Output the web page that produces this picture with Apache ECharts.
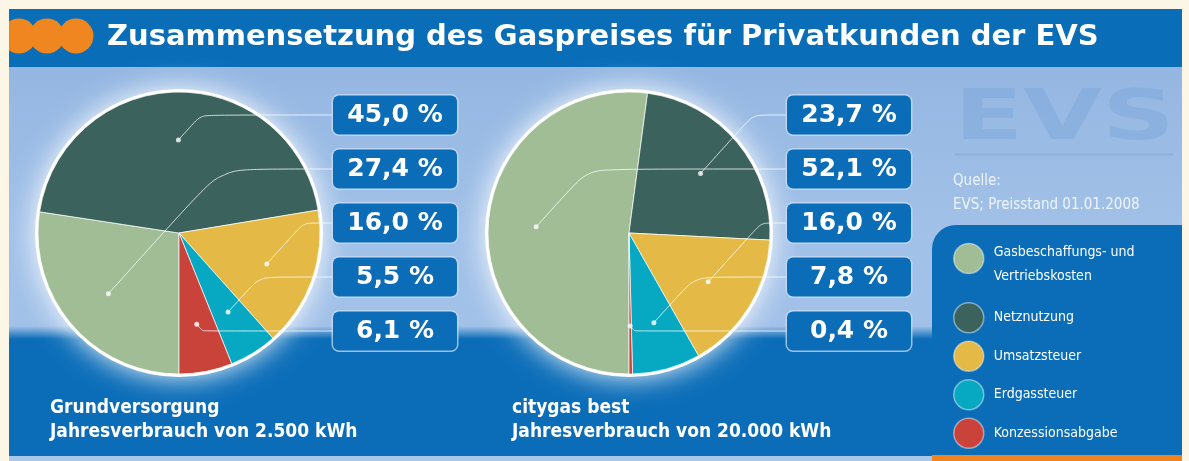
<!DOCTYPE html>
<html>
<head>
<meta charset="utf-8">
<title>Gaspreis EVS</title>
<style>
  html, body { margin: 0; padding: 0; background: #fcf6e6; }
  #main { width: 1189px; height: 461px; }
</style>
<script src="https://cdn.jsdelivr.net/npm/echarts@6/dist/echarts.min.js"></script>
</head>
<body>
<div id="main"></div>
<script>
// data
var categories = ['Gasbeschaffungs- und Vertriebskosten', 'Netznutzung', 'Umsatzsteuer', 'Erdgassteuer', 'Konzessionsabgabe'];
var grundValues = [27.4, 45.0, 16.0, 5.5, 6.1];
var citygasValues = [52.1, 23.7, 16.0, 7.8, 0.4];
var colors = ['#a0bd96', '#3b625c', '#e4b945', '#07a9c2', '#c9433a'];
// which box (top to bottom) each category's value goes into
var boxSlot = [1, 0, 2, 3, 4];

var CY = 233, R = 141, DOT_R = 0.66;
var BOX_TOP = 115, BOX_STEP = 54, BOX_W = 124;
var condensed = '"DejaVu Sans Condensed", "Liberation Sans Narrow", sans-serif';

function midPercents(values) {
  var total = 0, acc = 0;
  values.forEach(function (v) { total += v; });
  return values.map(function (v) {
    var m = (acc + v / 2) / total * 100;
    acc += v;
    return m;
  });
}

function makeLayout(values, cx, boxX) {
  var mids = midPercents(values);
  return function (p) {
    var i = p.dataIndex;
    var a = mids[i] / 100 * 2 * Math.PI;
    var dx = cx - Math.sin(a) * R * DOT_R;
    var dy = CY + Math.cos(a) * R * DOT_R;
    var ty = BOX_TOP + boxSlot[i] * BOX_STEP;
    var ex = Math.min(dx + Math.abs(dy - ty) * 0.9, boxX - 10);
    return {
      x: boxX + BOX_W / 2,
      y: ty,
      align: 'center',
      verticalAlign: 'middle',
      labelLinePoints: [[dx, dy], [ex, ty], [boxX, ty]]
    };
  };
}

function haloSeries(cx) {
  return {
    type: 'pie', silent: true, animation: false, z: 1,
    center: [cx, CY], radius: [0, R + 3],
    label: { show: false }, labelLine: { show: false },
    itemStyle: { color: '#ffffff', shadowBlur: 28, shadowColor: 'rgba(255,255,255,0.95)' },
    data: [{ name: 'halo', value: 1 }]
  };
}

function pieSeries(name, values, cx) {
  return {
    name: name, type: 'pie', animation: false, z: 3,
    center: [cx, CY], radius: [0, R],
    startAngle: 270, clockwise: true,
    emphasis: { scale: false },
    itemStyle: { borderColor: 'rgba(255,255,255,0.7)', borderWidth: 1 },
    label: { show: false }, labelLine: { show: false },
    data: values.map(function (v, i) {
      return { name: categories[i], value: v, itemStyle: { color: colors[i] } };
    })
  };
}

// same slices, transparent, only carrying the value boxes so the lines sit on top
function labelSeries(name, values, cx, boxX) {
  return {
    name: name, type: 'pie', animation: false, z: 5, silent: true,
    center: [cx, CY], radius: [0, R],
    startAngle: 270, clockwise: true,
    avoidLabelOverlap: false,
    itemStyle: { color: 'rgba(0,0,0,0)', borderWidth: 0 },
    data: values.map(function (v, i) { return { name: categories[i], value: v }; }),
    label: {
      show: true, position: 'outside',
      formatter: function (p) { return p.value.toFixed(1).replace('.', ',') + ' %'; },
      color: '#ffffff', fontFamily: '"DejaVu Sans", sans-serif', fontWeight: 'bold', fontSize: 25,
      width: BOX_W, height: 39, lineHeight: 39, align: 'center',
      backgroundColor: '#0b6cb7', borderRadius: 6,
      borderColor: 'rgba(200,222,245,0.75)', borderWidth: 1.5
    },
    labelLine: { show: true, smooth: 0.15, lineStyle: { color: 'rgba(255,255,255,0.75)', width: 1 } },
    labelLayout: makeLayout(values, cx, boxX)
  };
}

function dotSeries(values, polarIndex) {
  return {
    type: 'scatter', coordinateSystem: 'polar', polarIndex: polarIndex,
    silent: true, animation: false, z: 8,
    symbolSize: 5, itemStyle: { color: '#ffffff' },
    data: midPercents(values).map(function (m) { return [DOT_R, m]; })
  };
}

var chart = echarts.init(document.getElementById('main'));
var option = {
  backgroundColor: '#fcf6e6',
  title: [
    {
      text: 'Zusammensetzung des Gaspreises für Privatkunden der EVS',
      left: 107, top: 19, padding: 0,
      textStyle: { color: '#ffffff', fontFamily: '"DejaVu Sans", sans-serif', fontWeight: 'bold', fontSize: 29, lineHeight: 36 }
    },
    {
      text: 'Grundversorgung\nJahresverbrauch von 2.500 kWh',
      left: 50, top: 396, padding: 0,
      textStyle: { color: '#ffffff', fontFamily: condensed, fontWeight: 'bold', fontSize: 19, lineHeight: 24 }
    },
    {
      text: 'citygas best\nJahresverbrauch von 20.000 kWh',
      left: 512, top: 396, padding: 0,
      textStyle: { color: '#ffffff', fontFamily: condensed, fontWeight: 'bold', fontSize: 19, lineHeight: 24 }
    },
    {
      text: 'Quelle:\nEVS; Preisstand 01.01.2008',
      left: 953, top: 169, padding: 0,
      textStyle: { color: '#eef4fb', fontFamily: condensed, fontWeight: 'normal', fontSize: 15, lineHeight: 24 }
    }
  ],
  legend: {
    orient: 'vertical', left: 953, top: 222, padding: 0,
    itemWidth: 30, itemHeight: 30, itemGap: 7, icon: 'circle',
    selectedMode: false,
    itemStyle: { borderColor: 'rgba(255,255,255,0.45)', borderWidth: 1.5 },
    formatter: function (name) {
      if (name === categories[0]) {
        return '{s| }\n{t|Gasbeschaffungs- und}\n{t|Vertriebskosten}';
      }
      return name;
    },
    textStyle: {
      color: '#ffffff', fontFamily: condensed, fontSize: 14, lineHeight: 24, padding: [0, 0, 0, 5],
      rich: {
        s: { fontSize: 14, lineHeight: 18 },
        t: { color: '#ffffff', fontFamily: condensed, fontSize: 14, lineHeight: 24 }
      }
    },
    data: categories.map(function (c, i) {
      if (i === 0) {
        return { name: c, textStyle: { padding: [0, 0, 7, 5] } };
      }
      return { name: c };
    })
  },
  polar: [
    { center: [179, CY], radius: R },
    { center: [629, CY], radius: R }
  ],
  angleAxis: [
    { polarIndex: 0, type: 'value', min: 0, max: 100, startAngle: 270, clockwise: true, show: false },
    { polarIndex: 1, type: 'value', min: 0, max: 100, startAngle: 270, clockwise: true, show: false }
  ],
  radiusAxis: [
    { polarIndex: 0, type: 'value', min: 0, max: 1, show: false },
    { polarIndex: 1, type: 'value', min: 0, max: 1, show: false }
  ],
  graphic: [
    // panel
    { type: 'rect', z: 0, shape: { x: 9, y: 9, width: 1173, height: 452 },
      style: { fill: new echarts.graphic.LinearGradient(0, 0, 0, 1, [
        { offset: 0, color: '#8fb3df' }, { offset: 0.5, color: '#a2c1e8' }, { offset: 1, color: '#a2c1e8' }]) } },
    // title bar
    { type: 'rect', z: 0, shape: { x: 9, y: 9, width: 1173, height: 58 }, style: { fill: '#0a6db8' } },
    // dark lower band
    { type: 'rect', z: 0, shape: { x: 9, y: 326, width: 1173, height: 130 },
      style: { fill: new echarts.graphic.LinearGradient(0, 0, 0, 1, [
        { offset: 0, color: 'rgba(11,109,184,0)' }, { offset: 0.1, color: '#0b6db8' }, { offset: 1, color: '#0b6db8' }]) } },
    // legend panel
    { type: 'rect', z: 0, shape: { x: 932, y: 225, width: 250, height: 231, r: [24, 0, 0, 0] }, style: { fill: '#0b6db8' } },
    // bottom stripes
    { type: 'rect', z: 0, shape: { x: 9, y: 456, width: 923, height: 5 }, style: { fill: '#a9c7ea' } },
    { type: 'rect', z: 0, shape: { x: 932, y: 455, width: 250, height: 6 }, style: { fill: '#f0841e' } },
    // orange dots in the title bar
    { type: 'circle', z: 1, shape: { cx: 19, cy: 36, r: 17.5 }, style: { fill: '#f0861f' } },
    { type: 'circle', z: 1, shape: { cx: 47, cy: 36, r: 17.5 }, style: { fill: '#f0861f' } },
    { type: 'circle', z: 1, shape: { cx: 76, cy: 36, r: 17.5 }, style: { fill: '#f0861f' } },
    { type: 'rect', z: 1, shape: { x: 0, y: 0, width: 9, height: 461 }, style: { fill: '#fcf6e6' } },
    // faint EVS logo
    { type: 'text', z: 1, x: 954, y: 121, scaleX: 1.45,
      style: { text: 'EVS', x: 0, y: 0, fill: 'rgba(110,155,215,0.3)', font: 'bold 70px "DejaVu Sans"', verticalAlign: 'middle', textVerticalAlign: 'middle' } },
    { type: 'rect', z: 1, shape: { x: 955, y: 153, width: 218, height: 3 }, style: { fill: 'rgba(110,155,215,0.25)' } }
  ],
  series: [
    haloSeries(179),
    haloSeries(629),
    pieSeries('Grundversorgung', grundValues, 179),
    pieSeries('citygas best', citygasValues, 629),
    labelSeries('Grundversorgung Werte', grundValues, 179, 333),
    labelSeries('citygas best Werte', citygasValues, 629, 787),
    dotSeries(grundValues, 0),
    dotSeries(citygasValues, 1)
  ]
};
chart.setOption(option);
window.onresize = chart.resize;
</script>
</body>
</html>
